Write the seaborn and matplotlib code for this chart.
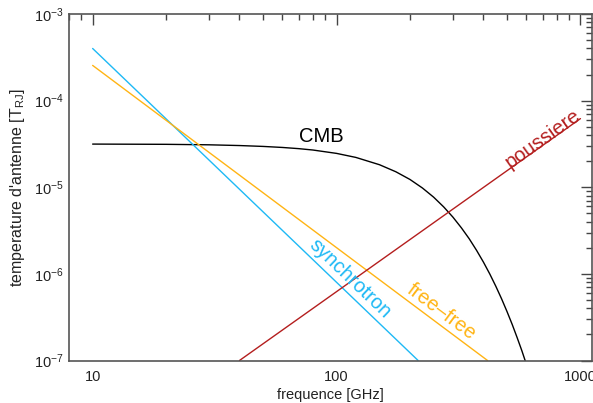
import numpy as np
import pandas as pd
import matplotlib
matplotlib.use("Agg")
import matplotlib.pyplot as plt
import seaborn as sns
from matplotlib.ticker import LogLocator, FixedLocator, FixedFormatter, NullFormatter

# ---- data ----
cmb_freq = [10, 20, 30, 40, 50, 60, 70, 80, 100, 120, 150, 175, 200, 225, 250, 275,
            300, 325, 350, 375, 400, 425, 450, 475, 500, 525, 550, 575, 600]
cmb_temp = [3.15e-5, 3.13e-5, 3.09e-5, 3.03e-5, 2.96e-5, 2.88e-5, 2.79e-5, 2.69e-5,
            2.46e-5, 2.21e-5, 1.82e-5, 1.51e-5, 1.23e-5, 9.80e-6, 7.69e-6, 5.93e-6,
            4.52e-6, 3.40e-6, 2.54e-6, 1.87e-6, 1.37e-6, 9.96e-7, 7.18e-7, 5.15e-7,
            3.67e-7, 2.61e-7, 1.84e-7, 1.30e-7, 9.08e-8]

sync_freq = [10, 216]
sync_temp = [4.0e-4, 1.0e-7]

ff_freq = [10, 416]
ff_temp = [2.55e-4, 1.0e-7]

dust_freq = [40, 1000]
dust_temp = [1.0e-7, 6.2e-5]

x_ticks = [10, 100, 1000]
x_tick_labels = ["10", "100", "1000"]

labels = ["CMB", "synchrotron", "free\u2013free", "poussiere"]

# ---- style ----
sns.set_style("white")
plt.rcParams["font.family"] = ["Liberation Sans", "DejaVu Sans"]
plt.rcParams["mathtext.fontset"] = "custom"
plt.rcParams["mathtext.rm"] = "Liberation Sans"
plt.rcParams["mathtext.it"] = "Liberation Sans"

c_cmb = "#000000"
c_sync = "#1EB9F5"
c_ff = "#FFB414"
c_dust = "#B41E1E"

fig = plt.figure(figsize=(5.93, 4.03), dpi=100)
ax = fig.add_axes([69 / 593, 1 - 360.5 / 403, (591.5 - 69) / 593, (360.5 - 14) / 403])

df_cmb = pd.DataFrame({"f": cmb_freq, "T": cmb_temp})
df_sync = pd.DataFrame({"f": sync_freq, "T": sync_temp})
df_ff = pd.DataFrame({"f": ff_freq, "T": ff_temp})
df_dust = pd.DataFrame({"f": dust_freq, "T": dust_temp})

sns.lineplot(data=df_cmb, x="f", y="T", ax=ax, color=c_cmb, lw=1.0)
sns.lineplot(data=df_sync, x="f", y="T", ax=ax, color=c_sync, lw=1.0)
sns.lineplot(data=df_ff, x="f", y="T", ax=ax, color=c_ff, lw=1.0)
sns.lineplot(data=df_dust, x="f", y="T", ax=ax, color=c_dust, lw=1.0)

ax.set_xscale("log")
ax.set_yscale("log")
ax.set_xlim(8, 1110)
ax.set_ylim(1e-7, 1e-3)

ax.xaxis.set_major_locator(FixedLocator(x_ticks))
ax.xaxis.set_major_formatter(FixedFormatter(x_tick_labels))
ax.xaxis.set_minor_locator(LogLocator(base=10, subs=np.arange(2, 10), numticks=20))
ax.xaxis.set_minor_formatter(NullFormatter())
ax.yaxis.set_major_locator(LogLocator(base=10, numticks=10))
ax.yaxis.set_minor_locator(LogLocator(base=10, subs=np.arange(2, 10), numticks=20))
ax.yaxis.set_minor_formatter(NullFormatter())

ax.tick_params(which="both", direction="in", top=True, right=True,
               color="#444444", width=1.0, labelsize=10.5, labelcolor="#222222")
ax.tick_params(which="major", length=8)
ax.tick_params(which="minor", length=4.3)
ax.tick_params(axis="x", which="major", pad=7)
ax.tick_params(axis="y", which="major", pad=4)
for s in ax.spines.values():
    s.set_color("#555555")
    s.set_linewidth(1.2)
    s.set_visible(True)

ax.set_xlabel("frequence [GHz]", fontsize=10.5, color="#222222", labelpad=3)
ax.set_ylabel(r"temperature d'antenne [T$_{\rm RJ}$]", fontsize=11.5, color="#222222", labelpad=5)

# ---- curve labels ----
def place(text, xp, yp, rot, color):
    fx, fy = fig.transFigure.inverted().transform((xp, 403 - yp))
    fig.text(fx, fy, text, rotation=rot, color=color, fontsize=14.5,
             ha="center", va="center", rotation_mode="anchor", fontweight="light")

place(labels[0], 321, 137, 0, c_cmb)
place(labels[1], 350, 279, -43.8, c_sync)
place(labels[2], 442, 312, -36.7, c_ff)
place(labels[3], 543, 139, 35.4, c_dust)

fig.savefig("out.png", dpi=100, facecolor="white")
